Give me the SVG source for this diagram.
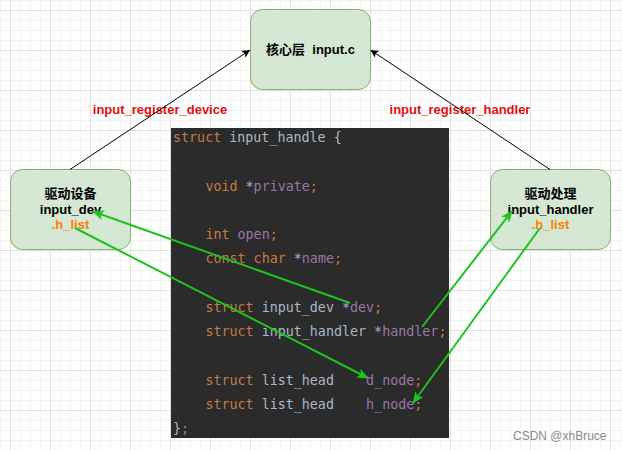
<svg xmlns="http://www.w3.org/2000/svg" width="622" height="450" viewBox="0 0 622 450">
<style>
.node rect{fill:#d5e8d4;stroke:#82b366;stroke-width:1}
.nt{font-family:"Liberation Sans","Noto Sans CJK SC",sans-serif;font-weight:bold;font-size:13px;fill:#000;text-anchor:middle}
.or{fill:#ff8000}
.lbl{font-family:"Liberation Sans",sans-serif;font-weight:bold;font-size:13px;fill:#e01010;text-anchor:middle}
.code{font-family:"DejaVu Sans Mono","Liberation Mono",monospace;font-size:13.35px;fill:#a9b7c6;white-space:pre}
.k{fill:#c27a43}
.f{fill:#9876aa}
.blk{stroke:#000;stroke-width:1;fill:none}
.grn{stroke:#1ec21e;stroke-width:2;fill:none}
</style>
<defs>
<pattern id="grid" x="10" y="10" width="40" height="40" patternUnits="userSpaceOnUse">
<path d="M10.5,0V40M20.5,0V40M30.5,0V40M0,10.5H40M0,20.5H40M0,30.5H40" stroke="#f3f3f3" stroke-width="1" fill="none"/>
<path d="M0.5,0V40M0,0.5H40" stroke="#e0e0e0" stroke-width="1" fill="none"/>
</pattern>
<marker id="ab" viewBox="0 0 8 8" markerWidth="8" markerHeight="8" refX="8" refY="4" orient="auto" markerUnits="userSpaceOnUse">
<path d="M0,0L8,4L0,8L2,4z" fill="#000"/>
</marker>
<marker id="ag" viewBox="0 0 12 10" markerWidth="12" markerHeight="10" refX="11" refY="5" orient="auto" markerUnits="userSpaceOnUse">
<path d="M0,0L12,5L0,10L3,5z" fill="#1ec21e"/>
</marker>
</defs>
<rect width="622" height="450" fill="#fff"/>
<rect width="622" height="450" fill="url(#grid)"/>

<g id="code-block">
<rect x="171" y="128" width="278" height="310" fill="#2b2b2b"/>
<text class="code" xml:space="preserve" x="173" y="142"><tspan class="k">struct</tspan> input_handle {</text>
<text class="code" xml:space="preserve" x="205.4" y="190.5"><tspan class="k">void</tspan> *<tspan class="f">private</tspan><tspan class="k">;</tspan></text>
<text class="code" xml:space="preserve" x="205.4" y="239"><tspan class="k">int</tspan> <tspan class="f">open</tspan><tspan class="k">;</tspan></text>
<text class="code" xml:space="preserve" x="205.4" y="263.2"><tspan class="k">const char</tspan> *<tspan class="f">name</tspan><tspan class="k">;</tspan></text>
<text class="code" xml:space="preserve" x="205.4" y="311.7"><tspan class="k">struct</tspan> input_dev *<tspan class="f">dev</tspan><tspan class="k">;</tspan></text>
<text class="code" xml:space="preserve" x="205.4" y="336"><tspan class="k">struct</tspan> input_handler *<tspan class="f">handler</tspan><tspan class="k">;</tspan></text>
<text class="code" xml:space="preserve" x="205.4" y="384.5"><tspan class="k">struct</tspan> list_head    <tspan class="f">d_node</tspan><tspan class="k">;</tspan></text>
<text class="code" xml:space="preserve" x="205.4" y="408.7"><tspan class="k">struct</tspan> list_head    <tspan class="f">h_node</tspan><tspan class="k">;</tspan></text>
<text class="code" xml:space="preserve" x="173" y="433">}<tspan class="k">;</tspan></text>
</g>

<g id="core" class="node">
<rect x="250.5" y="9.5" width="120" height="80" rx="12"/>
<text class="nt" xml:space="preserve" x="310.5" y="54">核心层  input.c</text>
</g>
<g id="driver-device" class="node">
<rect x="10.5" y="169.5" width="120" height="80" rx="12"/>
<text class="nt" x="70.5" y="198">驱动设备</text>
<text class="nt" x="70.5" y="213.5">input_dev</text>
<text class="nt or" x="70.5" y="229">.h_list</text>
</g>
<g id="driver-handler" class="node">
<rect x="490.5" y="169.5" width="120" height="80" rx="12"/>
<text class="nt" x="550.5" y="198">驱动处理</text>
<text class="nt" x="550.5" y="213.5">input_handler</text>
<text class="nt or" x="550.5" y="229">.h_list</text>
</g>

<g id="labels">
<text class="lbl" x="160" y="113.5">input_register_device</text>
<text class="lbl" x="460" y="113.5">input_register_handler</text>
</g>

<g id="connectors">
<path class="blk" d="M70,169.5L250,50" marker-end="url(#ab)"/>
<path class="blk" d="M550,169.5L370.5,50" marker-end="url(#ab)"/>
<path class="grn" d="M350,303L93,211.5" marker-end="url(#ag)"/>
<path class="grn" d="M75,228L368,378" marker-end="url(#ag)"/>
<path class="grn" d="M422,327L512,211" marker-end="url(#ag)"/>
<path class="grn" d="M540,228L413,403" marker-end="url(#ag)"/>
</g>

<text x="513" y="440" font-family="Liberation Sans,sans-serif" font-size="12" fill="#8a8a8a">CSDN @xhBruce</text>
</svg>
